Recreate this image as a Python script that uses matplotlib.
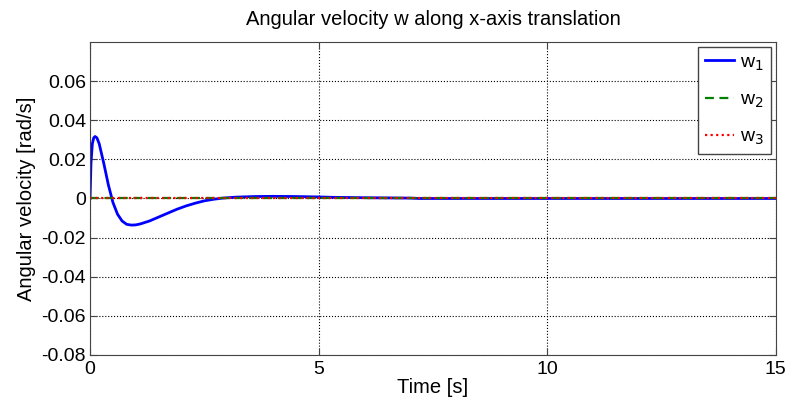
import matplotlib.pyplot as plt
import numpy as np

plt.rcParams['font.family'] = ['Liberation Sans', 'DejaVu Sans']

# time samples [s] and angular velocity components [rad/s]
t = [0, 0.02, 0.05, 0.08, 0.11, 0.15, 0.2, 0.3, 0.4, 0.5, 0.6, 0.7, 0.8,
     0.9, 1.0, 1.1, 1.3, 1.5, 1.7, 1.9, 2.1, 2.3, 2.5, 2.7, 2.9, 3.2, 3.6,
     4.0, 4.5, 5.0, 5.3, 6.0, 7.0, 7.2, 15]
w1 = [0, 0.018, 0.028, 0.031, 0.0317, 0.031, 0.028, 0.018, 0.007, -0.002,
      -0.008, -0.0115, -0.0132, -0.0136, -0.0135, -0.013, -0.0115, -0.0095,
      -0.0075, -0.0055, -0.0038, -0.0024, -0.0012, -0.0004, 0.0002, 0.0007,
      0.001, 0.0011, 0.001, 0.0008, 0.0006, 0.0004, 0.0002, 0, 0]
w2 = [0] * len(t)
w3 = [0] * len(t)

xticks = [0, 5, 10, 15]
yticks = [-0.08, -0.06, -0.04, -0.02, 0, 0.02, 0.04, 0.06]
ytick_labels = ['-0.08', '-0.06', '-0.04', '-0.02', '0', '0.02', '0.04', '0.06']

fig = plt.figure(figsize=(7.9, 4.08), dpi=100)
ax = fig.add_axes([0.114, 0.130, 0.868, 0.767])

ax.plot(t, w1, color='#0000ff', lw=2, label='w$_1$')
ax.plot(t, w2, color='#008000', lw=1.6, ls=(0, (4, 2.5)), label='w$_2$')
ax.plot(t, w3, color='#ff0000', lw=1.6, ls=(0, (1, 1.5)), label='w$_3$')

ax.set_xlim(0, 15)
ax.set_ylim(-0.08, 0.08)
ax.set_xticks(xticks)
ax.set_yticks(yticks)
ax.set_yticklabels(ytick_labels)
ax.tick_params(direction='in', top=True, right=True, labelsize=14,
               length=5, color='#444444')
ax.tick_params(axis='y', pad=3)
ax.tick_params(axis='x', pad=4)
ax.grid(True, color='black', ls=':', lw=0.8)
for s in ax.spines.values():
    s.set_color('#444444')

ax.set_xlabel('Time [s]', fontsize=14.5, labelpad=0)
ax.set_ylabel('Angular velocity [rad/s]', fontsize=14.5, labelpad=4)
ax.set_title('Angular velocity w along x-axis translation', fontsize=14.5, pad=12)

leg = ax.legend(loc='upper right', fontsize=14, fancybox=False,
                edgecolor='#444444', framealpha=1, handlelength=1.5,
                borderaxespad=0.25, borderpad=0.35, labelspacing=0.95,
                handletextpad=0.3)
leg.get_frame().set_linewidth(1)

fig.savefig('out.png', dpi=100)
